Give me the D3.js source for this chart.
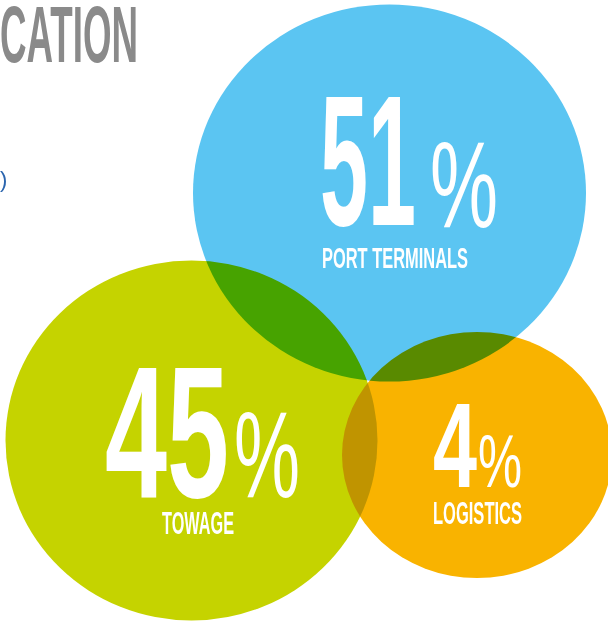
<!DOCTYPE html>
<html>
<head>
<meta charset="utf-8">
<script src="https://cdn.jsdelivr.net/npm/d3@7"></script>
<style>
  html, body { margin: 0; padding: 0; background: #ffffff; overflow: hidden; }
  svg { display: block; }
  .blend { mix-blend-mode: multiply; }
</style>
</head>
<body>
<svg id="chart" width="608" height="622"></svg>
<script>
// ---- data ----
const categories = ["PORT TERMINALS", "TOWAGE", "LOGISTICS"];
const shares = [51, 45, 4];
const colors = ["#5BC5F2", "#C5D300", "#F9B300"];
const titleText = "CATION";

// ---- layout (geometry of each bubble and its labels) ----
const layout = [
  { cx: 389.5, cy: 193, rx: 196.5, ry: 188.5,
    num: { x: 320, y: 225, size: 186, len: 96 },
    pct: { x: 430, y: 227, size: 122, len: 68 },
    lab: { x: 322, y: 268, size: 30, len: 146 } },
  { cx: 191.5, cy: 440.5, rx: 186, ry: 180,
    num: { x: 105, y: 497, size: 188, len: 124 },
    pct: { x: 234, y: 497, size: 122, len: 66 },
    lab: { x: 162, y: 534, size: 31, len: 72 } },
  { cx: 477, cy: 455, rx: 135, ry: 123,
    num: { x: 433, y: 487, size: 120, len: 44 },
    pct: { x: 478, y: 487, size: 75, len: 44 },
    lab: { x: 433, y: 524, size: 32, len: 89 } }
];

const data = categories.map((c, i) => ({ name: c, value: shares[i], geo: layout[i] }));
const color = d3.scaleOrdinal(categories, colors);
const fmt = d3.format("d");

const svg = d3.select("#chart");
const font = "'Liberation Sans Narrow', 'Liberation Sans', Arial, sans-serif";

// title (cropped)
svg.append("text")
  .attr("x", 0).attr("y", 62)
  .attr("font-family", font)
  .attr("font-size", 80)
  .attr("font-weight", "bold")
  .attr("fill", "#8a8a8a")
  .attr("textLength", 138)
  .attr("lengthAdjust", "spacingAndGlyphs")
  .text(titleText);

svg.append("text")
  .attr("x", 0).attr("y", 187)
  .attr("font-family", font)
  .attr("font-size", 22)
  .attr("fill", "#2b65ae")
  .text(")");

// bubbles
svg.append("g")
  .selectAll("ellipse")
  .data(data)
  .join("ellipse")
  .attr("class", "blend")
  .attr("cx", d => d.geo.cx)
  .attr("cy", d => d.geo.cy)
  .attr("rx", d => d.geo.rx)
  .attr("ry", d => d.geo.ry)
  .attr("fill", d => color(d.name));

// labels: one text block per bubble
const lbl = svg.append("g").attr("fill", "#ffffff").attr("font-family", font);

function addSpan(t, p, txt, weight) {
  t.append("tspan")
    .attr("x", p.x).attr("y", p.y)
    .attr("font-size", p.size)
    .attr("font-weight", weight)
    .attr("textLength", p.len)
    .attr("lengthAdjust", "spacingAndGlyphs")
    .text(txt);
}

data.forEach(d => {
  const t = lbl.append("text");
  addSpan(t, d.geo.num, fmt(d.value), "bold");
  addSpan(t, d.geo.pct, "%", "normal");
  addSpan(t, d.geo.lab, d.name, "bold");
});
</script>
</body>
</html>
